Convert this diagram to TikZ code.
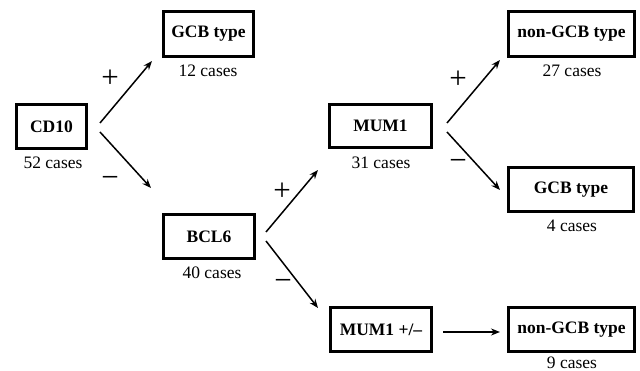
\documentclass[tikz,border=0pt]{standalone}
\usepackage{fontspec}
\setmainfont{Liberation Serif}
\usetikzlibrary{arrows.meta}
\begin{document}
\begin{tikzpicture}[x=1pt,y=-1pt,
  box/.style={draw,line width=3pt,rectangle,inner sep=0pt,font=\fontsize{17.5}{20}\selectfont\bfseries},
  cnt/.style={font=\fontsize{17.5}{20}\selectfont,inner sep=0pt},
  sgn/.style={font=\fontsize{31}{34}\selectfont,inner sep=0pt},
  arr/.style={line width=1.5pt,-{Stealth[length=9pt,width=7pt]}}]
\useasboundingbox (0,0) rectangle (640,371);
\node[box,minimum width=70pt,minimum height=44pt] (cd10) at (51.5,126.5) {CD10};
\node[cnt] (c52) at (53,163) {52 cases};
\node[box,minimum width=90pt,minimum height=45pt] (gcb1) at (208.5,34) {GCB type};
\node[cnt] (c12) at (208,71) {12 cases};
\node[box,minimum width=91pt,minimum height=44pt] (bcl6) at (209,236.5) {BCL6};
\node[cnt] (c40) at (212,273) {40 cases};
\node[box,minimum width=102pt,minimum height=43pt] (mum1) at (380.5,126) {MUM1};
\node[cnt] (c31) at (381,163) {31 cases};
\node[box,minimum width=126pt,minimum height=45pt] (ng1) at (571.5,34) {non-GCB type};
\node[cnt] (c27) at (572,71) {27 cases};
\node[box,minimum width=125pt,minimum height=44pt] (gcb2) at (571,189.5) {GCB type};
\node[cnt] (c4) at (572,226) {4 cases};
\node[box,minimum width=101pt,minimum height=44pt] (mumpm) at (381,329.5) {MUM1 +/--};
\node[box,minimum width=126pt,minimum height=44pt] (ng2) at (571.5,329.5) {non-GCB type};
\node[cnt] (c9) at (572,363) {9 cases};
\node[sgn] (s1) at (110,79) {+};
\node[sgn] (s2) at (110,182) {−};
\node[sgn] (s3) at (282,192) {+};
\node[sgn] (s4) at (283,285) {−};
\node[sgn] (s5) at (458,80) {+};
\node[sgn] (s6) at (458,165) {−};
\draw[arr] ([shift={(12,-3.5)}]cd10.east) -- ([shift={(-10,3)}]gcb1.south west);
\draw[arr] ([shift={(12,5.5)}]cd10.east) -- ([shift={(-11,-25)}]bcl6.north west);
\draw[arr] ([shift={(10,-4.5)}]bcl6.east) -- ([shift={(-10,21)}]mum1.south west);
\draw[arr] ([shift={(10,4.5)}]bcl6.east) -- ([shift={(-11,2)}]mumpm.north west);
\draw[arr] ([shift={(14,-3)}]mum1.east) -- ([shift={(-7,2)}]ng1.south west);
\draw[arr] ([shift={(14,6)}]mum1.east) -- ([shift={(-7,24)}]gcb2.north west);
\draw[arr] ([shift={(10,2.5)}]mumpm.east) -- ([shift={(-7,2.5)}]ng2.west);
\end{tikzpicture}
\end{document}
